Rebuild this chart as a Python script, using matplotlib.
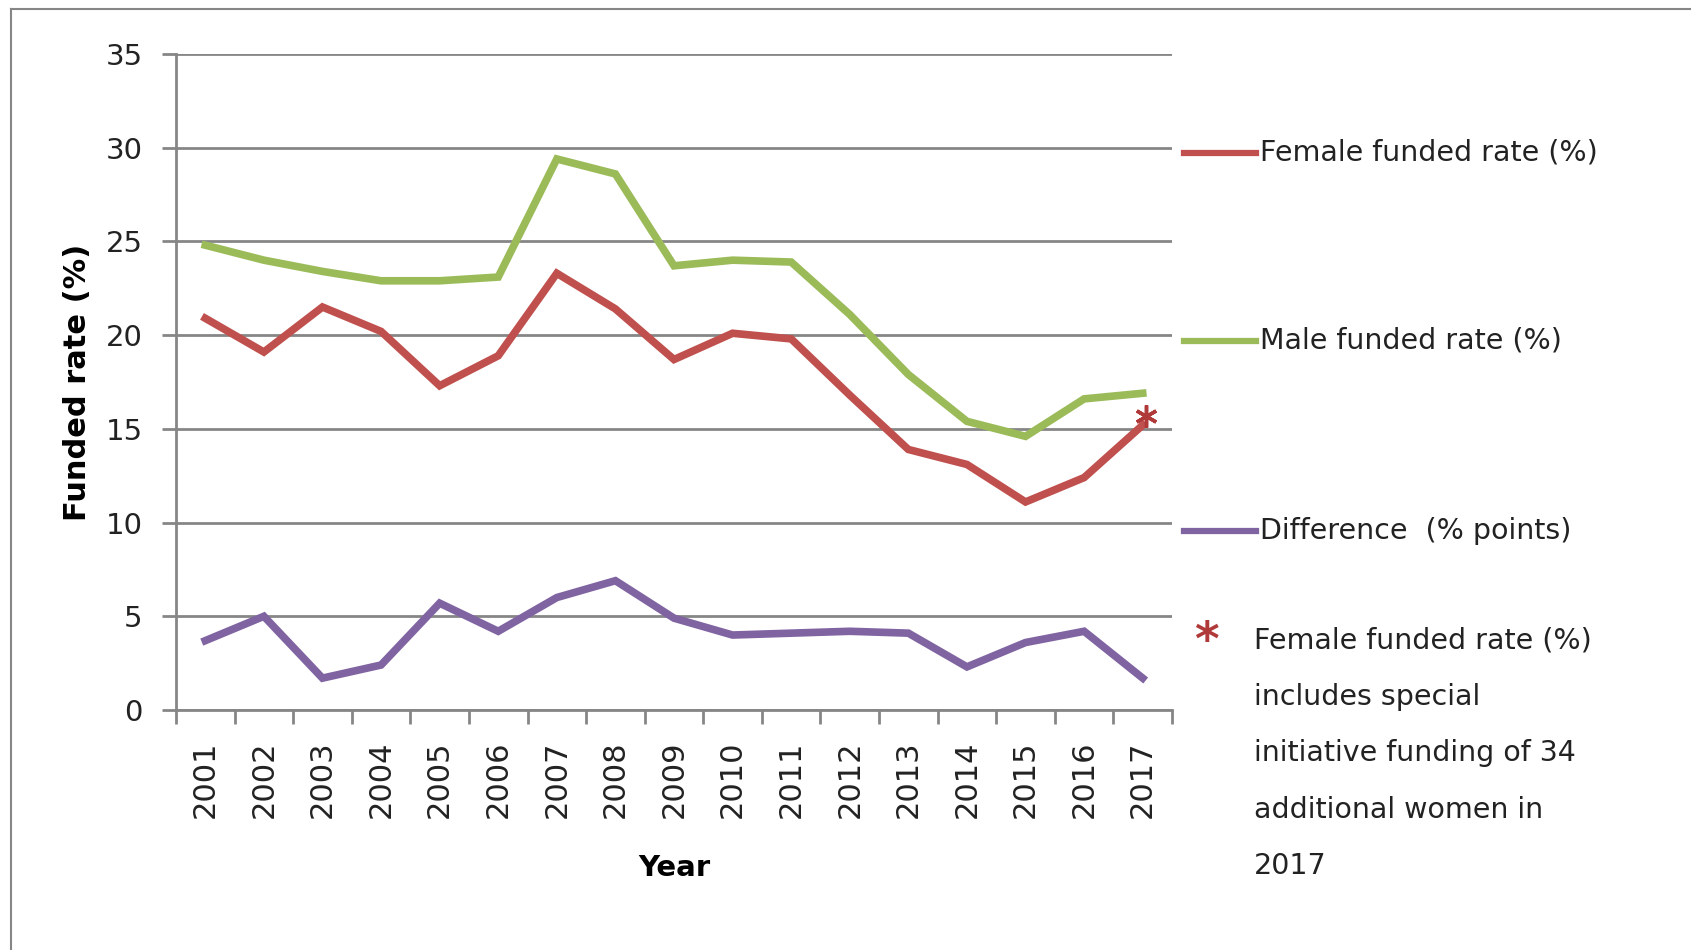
import matplotlib.pyplot as plt
from matplotlib.lines import Line2D

years = [str(y) for y in range(2001, 2018)]
female = [20.9, 19.1, 21.5, 20.2, 17.3, 18.9, 23.3, 21.4, 18.7,
          20.1, 19.8, 16.8, 13.9, 13.1, 11.1, 12.4, 15.2]
male = [24.8, 24.0, 23.4, 22.9, 22.9, 23.1, 29.4, 28.6, 23.7,
        24.0, 23.9, 21.1, 17.9, 15.4, 14.6, 16.6, 16.9]
diff = [3.7, 5.0, 1.7, 2.4, 5.7, 4.2, 6.0, 6.9, 4.9,
        4.0, 4.1, 4.2, 4.1, 2.3, 3.6, 4.2, 1.7]
star_value = 15.7  # 2017 female rate incl. special initiative
yticks = [0, 5, 10, 15, 20, 25, 30, 35]

labels = ["Female funded rate (%)", "Male funded rate (%)", "Difference  (% points)"]
note = ("Female funded rate (%)\nincludes special\ninitiative funding of 34\n"
        "additional women in\n2017")

RED, GREEN, PURPLE, GRID = "#C0504D", "#9BBB59", "#8064A2", "#868686"

fig = plt.figure(figsize=(16.91, 9.5), dpi=100)
ax = fig.add_axes([176 / 1691, 1 - 710 / 950, (1172 - 176) / 1691, (710 - 54) / 950])

x = list(range(len(years)))
ax.plot(x, female, color=RED, lw=5.5, solid_joinstyle="miter", zorder=3)
ax.plot(x, male, color=GREEN, lw=5.5, solid_joinstyle="miter", zorder=3)
ax.plot(x, diff, color=PURPLE, lw=5.5, solid_joinstyle="miter", zorder=3)
ax.plot([x[-1] + 0.05], [star_value], marker=(6, 2, 0), ms=16, mew=2.5,
        color="#B03A3A", zorder=4, clip_on=False)

ax.set_xlim(-0.5, len(years) - 0.5)
ax.set_ylim(0, 35)
ax.set_yticks(yticks)
ax.yaxis.grid(True, color=GRID, lw=2)
ax.set_axisbelow(True)
ax.set_xticks(x)
ax.set_xticklabels(years, rotation=90, fontsize=22, color="#222222")
ax.set_xticks([i - 0.5 for i in range(len(years) + 1)], minor=True)
ax.tick_params(axis="x", which="major", length=0, pad=22)
ax.tick_params(axis="x", which="minor", length=10, width=2, color=GRID)
ax.tick_params(axis="y", length=10, width=2, color=GRID, labelsize=21,
               labelcolor="#222222", pad=14)
for s in ["top", "right"]:
    ax.spines[s].set_visible(False)
for s in ["left", "bottom"]:
    ax.spines[s].set_color(GRID)
    ax.spines[s].set_linewidth(2)

ax.set_ylabel("Funded rate (%)", fontsize=22, fontweight="bold", labelpad=10)
ax.set_xlabel("Year", fontsize=21, fontweight="bold", labelpad=26)

# legend drawn by hand to match spacing
W, H = 1691, 950
for col, lab, yy in zip([RED, GREEN, PURPLE], labels, [153, 341, 531]):
    fig.add_artist(Line2D([1184 / W, 1256 / W], [1 - yy / H] * 2, color=col, lw=4.5))
    fig.text(1260 / W, 1 - yy / H, lab, fontsize=20.5, va="center", ha="left",
             color="#222222")
fig.text(1206 / W, 1 - 642 / H, "*", fontsize=34, color="#B03A3A",
         ha="center", va="center", fontweight="bold")
fig.text(1254 / W, 1 - 626 / H, note, fontsize=20.5, va="top", ha="left",
         color="#222222", linespacing=2.3)

# outer chart border
fig.add_artist(Line2D([11 / W, 1], [1 - 9 / H] * 2, color=GRID, lw=1.5))
fig.add_artist(Line2D([11 / W] * 2, [0, 1 - 9 / H], color=GRID, lw=1.5))

fig.savefig("out.png", dpi=100)
